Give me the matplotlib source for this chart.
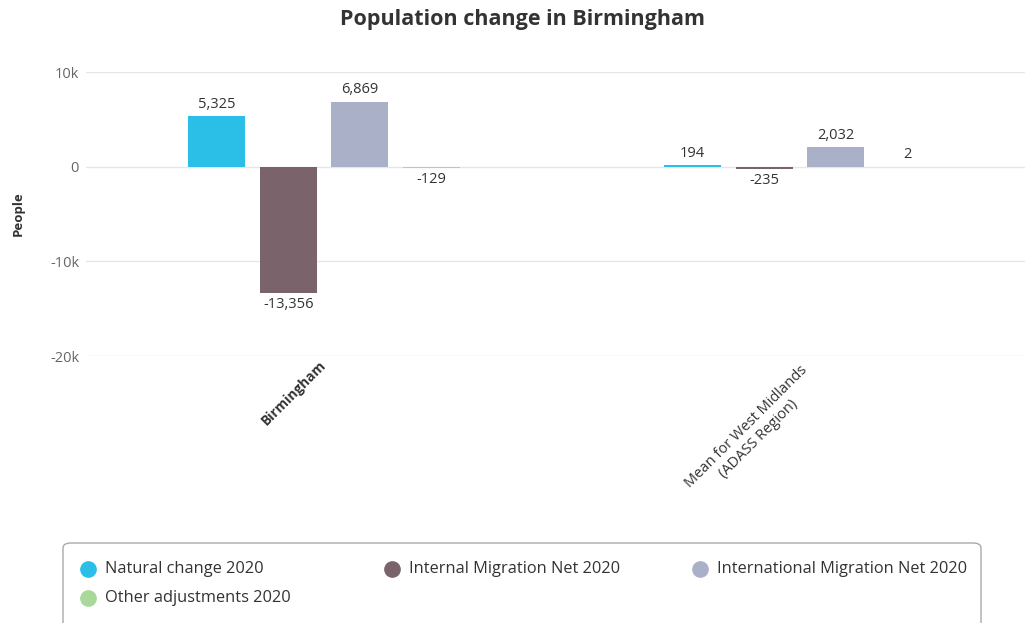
import matplotlib
matplotlib.use("Agg")
import matplotlib.pyplot as plt
from matplotlib.patches import FancyBboxPatch
from matplotlib.lines import Line2D
import numpy as np

plt.rcParams['font.family'] = ['Open Sans', 'DejaVu Sans']

categories = ["Birmingham", "Mean for West Midlands\n(ADASS Region)"]
series = ["Natural change 2020", "Internal Migration Net 2020",
          "International Migration Net 2020", "Other adjustments 2020"]
values = {
    "Natural change 2020": [5325, 194],
    "Internal Migration Net 2020": [-13356, -235],
    "International Migration Net 2020": [6869, 2032],
    "Other adjustments 2020": [-129, 2],
}
colors = ["#2bbfe8", "#7a636b", "#a9b0c8", "#a8d89a"]
yticks = [-20000, -10000, 0, 10000]
ytick_labels = ["-20k", "-10k", "0", "10k"]

W, H = 1025, 623
fig = plt.figure(figsize=(W / 100, H / 100), dpi=100)
ax_l, ax_r, ax_t, ax_b = 86, 1025, 72, 356
ax = fig.add_axes([ax_l / W, 1 - ax_b / H, (ax_r - ax_l) / W, (ax_b - ax_t) / H])

cat_px = 476.0
xmax = -0.5 + (ax_r - ax_l) / cat_px
ax.set_xlim(-0.5, xmax)
ax.set_ylim(-20000, 10000)

bw = 57 / cat_px
step = 71.7 / cat_px
x = np.arange(len(categories))
for i, (s, c) in enumerate(zip(series, colors)):
    off = (i - 1.5) * step
    vals = values[s]
    ax.bar(x + off, vals, width=bw, color=c, zorder=3, linewidth=0)
    for xi, v in zip(x + off, vals):
        lbl = f"{v:,}"
        if v >= 0:
            ax.annotate(lbl, (xi, v), xytext=(0, 3), textcoords="offset points",
                        ha="center", va="bottom", fontsize=10.5, color="#333333")
        else:
            ax.annotate(lbl, (xi, v), xytext=(0, -3), textcoords="offset points",
                        ha="center", va="top", fontsize=10.5, color="#333333")

ax.set_yticks(yticks)
ax.set_yticklabels(ytick_labels, fontsize=10.5, color="#666666")
ax.yaxis.grid(True, color="#e6e6e6", linewidth=1, zorder=0)
ax.tick_params(axis="y", length=0, pad=5)
ax.tick_params(axis="x", length=0, pad=5)
for sp in ax.spines.values():
    sp.set_visible(False)

ax.set_xticks(x)
ax.set_xticklabels(categories, rotation=45, ha="right", rotation_mode="anchor",
                   color="#333333", multialignment="center")
tl = ax.get_xticklabels()
tl[0].set_fontweight("bold")
tl[0].set_fontsize(9.8)
tl[0].set_va("center")
tl[1].set_fontsize(10.5)

fig.text(18 / W, 1 - 214 / H, "People", rotation=90, ha="center", va="center",
         fontsize=9.5, fontweight="bold", color="#333333")

fig.text(522 / W, 1 - 19 / H, "Population change in Birmingham", ha="center",
         va="center", fontsize=15.5, fontweight="bold", color="#333333")

# legend box
box = FancyBboxPatch((63 / W, 1 - 640 / H), (981 - 63) / W, (640 - 543) / H,
                     boxstyle="round,pad=0,rounding_size=0.008",
                     transform=fig.transFigure, facecolor="white",
                     edgecolor="#aaaaaa", linewidth=1)
fig.patches.append(box)
pos = [(88, 569), (392, 569), (700, 569), (88, 598)]
for (px, py), s, c in zip(pos, series, colors):
    fig.lines.append(Line2D([px / W], [1 - py / H], marker="o", markersize=11,
                            color=c, linestyle="none", transform=fig.transFigure))
    fig.text((px + 17) / W, 1 - py / H, s, ha="left", va="center",
             fontsize=11.8, color="#333333")

fig.savefig("out.png", dpi=100)
